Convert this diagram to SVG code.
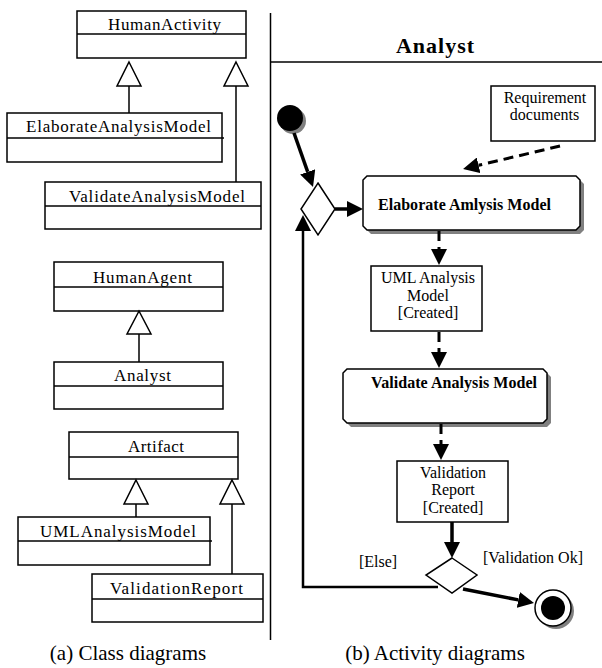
<svg xmlns="http://www.w3.org/2000/svg" width="602" height="668" viewBox="0 0 602 668">
<style>
text{font-family:"Liberation Serif","Times New Roman",serif;fill:#000}
.cn{font-size:17px}
.lb{font-size:16px;text-anchor:middle}
.bd{font-size:16px;font-weight:bold}
.cap{font-size:21px;text-anchor:middle}
.box{fill:#fff;stroke:#000;stroke-width:1.5}
.ln{fill:none;stroke:#000;stroke-width:1.5}
.gen{fill:#fff;stroke:#000;stroke-width:1.5;stroke-linejoin:miter}
.shadow{fill:#808080}
.flow{fill:none;stroke:#000;stroke-width:3.5}
.dash{fill:none;stroke:#000;stroke-width:3;stroke-dasharray:10 6}
</style>
<defs>
<marker id="ah" viewBox="0 0 16 16" refX="0" refY="8" markerWidth="16" markerHeight="16" markerUnits="userSpaceOnUse" orient="auto">
<path d="M0,0 L16,8 L0,16 z" fill="#000"/>
</marker>
</defs>

<!-- frame lines -->
<g id="frame">
<line class="ln" x1="270.5" y1="13" x2="270.5" y2="640"/>
<line class="ln" x1="271" y1="62" x2="602" y2="62"/>
<text x="396" y="53" style="font-size:22px;font-weight:bold" textLength="78" lengthAdjust="spacing">Analyst</text>
</g>

<!-- class diagrams -->
<g id="c-humanactivity">
<rect class="box" x="77" y="11" width="169" height="47"/>
<line class="ln" x1="77" y1="34" x2="246" y2="34"/>
<text class="cn" x="108" y="30" textLength="113" lengthAdjust="spacing">HumanActivity</text>
</g>
<g id="c-elaborate">
<rect class="box" x="7" y="113" width="215" height="49"/>
<line class="ln" x1="7" y1="138" x2="224" y2="138"/>
<text class="cn" x="26" y="132" textLength="185" lengthAdjust="spacing">ElaborateAnalysisModel</text>
</g>
<g id="c-validate">
<rect class="box" x="45" y="182" width="216" height="47"/>
<line class="ln" x1="45" y1="206" x2="261" y2="206"/>
<text class="cn" x="69" y="202" textLength="176" lengthAdjust="spacing">ValidateAnalysisModel</text>
</g>
<g id="c-humanagent">
<rect class="box" x="54" y="262" width="169" height="49"/>
<line class="ln" x1="54" y1="287" x2="223" y2="287"/>
<text class="cn" x="93" y="283" textLength="99" lengthAdjust="spacing">HumanAgent</text>
</g>
<g id="c-analyst">
<rect class="box" x="54" y="362" width="169" height="47"/>
<line class="ln" x1="54" y1="386" x2="223" y2="386"/>
<text class="cn" x="114" y="381" textLength="57" lengthAdjust="spacing">Analyst</text>
</g>
<g id="c-artifact">
<rect class="box" x="69" y="432" width="169" height="47"/>
<line class="ln" x1="69" y1="457" x2="238" y2="457"/>
<text class="cn" x="128" y="452" textLength="56" lengthAdjust="spacing">Artifact</text>
</g>
<g id="c-umlanalysismodel">
<rect class="box" x="18" y="517" width="192" height="48"/>
<line class="ln" x1="18" y1="541" x2="212" y2="541"/>
<text class="cn" x="40" y="537" textLength="156" lengthAdjust="spacing">UMLAnalysisModel</text>
</g>
<g id="c-validationreport">
<rect class="box" x="92" y="574" width="171" height="48"/>
<line class="ln" x1="92" y1="599" x2="263" y2="599"/>
<text class="cn" x="110" y="594" textLength="133" lengthAdjust="spacing">ValidationReport</text>
</g>

<!-- activity nodes -->
<g id="a-initial">
<circle class="shadow" cx="293" cy="121" r="13"/>
<circle cx="290" cy="118" r="13" fill="#000"/>
</g>
<g id="a-decision1">
<polygon class="box" points="318,183 335,209 318,235 301,209"/>
</g>
<g id="a-elaborate">
<polygon class="shadow" points="371,180 580,180 584,184 584,230 580,234 371,234 367,230 367,184"/>
<polygon class="box" points="367,176 576,176 580,180 580,226 576,230 367,230 363,226 363,180"/>
<text class="bd" x="378" y="210" textLength="173" lengthAdjust="spacing">Elaborate Amlysis Model</text>
</g>
<g id="a-requirements">
<rect class="box" x="491" y="86" width="104" height="55"/>
<text class="lb" x="545" y="103">Requirement</text>
<text class="lb" x="544.5" y="120">documents</text>
</g>
<g id="a-umlmodel">
<rect class="box" x="371" y="266" width="111" height="65"/>
<text class="lb" x="428" y="283">UML Analysis</text>
<text class="lb" x="428" y="301">Model</text>
<text class="lb" x="428" y="318">[Created]</text>
</g>
<g id="a-validate">
<polygon class="shadow" points="351,373 547,373 551,377 551,423 547,427 351,427 347,423 347,377"/>
<polygon class="box" points="347,369 543,369 547,373 547,419 543,423 347,423 343,419 343,373"/>
<text class="bd" x="371" y="388" textLength="166" lengthAdjust="spacing">Validate Analysis Model</text>
</g>
<g id="a-report">
<rect class="box" x="397" y="461" width="111" height="61"/>
<text class="lb" x="453" y="478">Validation</text>
<text class="lb" x="453" y="495">Report</text>
<text class="lb" x="453" y="513">[Created]</text>
</g>
<g id="a-decision2">
<polygon class="box" points="452,558 477,575 452,593 426,575"/>
</g>
<g id="a-final">
<circle class="shadow" cx="556" cy="611" r="18"/>
<circle cx="553" cy="608" r="18" fill="#fff" stroke="#000" stroke-width="1.5"/>
<circle cx="553" cy="608" r="12" fill="#000"/>
</g>

<!-- connectors -->
<g id="connectors">
<!-- generalizations -->
<line class="ln" x1="129" y1="86" x2="129" y2="113"/>
<polygon class="gen" points="129,62 141,86 117,86"/>
<line class="ln" x1="236" y1="86" x2="236" y2="182"/>
<polygon class="gen" points="236,62 248,86 224,86"/>
<line class="ln" x1="139" y1="334" x2="139" y2="362"/>
<polygon class="gen" points="139,311 151,334 127,334"/>
<line class="ln" x1="136" y1="504" x2="136" y2="517"/>
<polygon class="gen" points="136,480 148,504 124,504"/>
<line class="ln" x1="232" y1="504" x2="232" y2="574"/>
<polygon class="gen" points="232,480 244,504 220,504"/>
<!-- activity flows -->
<path class="flow" d="M294,133 L307.7,171.9" marker-end="url(#ah)"/>
<path class="flow" d="M335,209 L347,209" marker-end="url(#ah)"/>
<path class="dash" d="M560,146 L478.6,165.3" marker-end="url(#ah)"/>
<path class="dash" d="M439,231 L439,249" marker-end="url(#ah)"/>
<path class="dash" d="M439,332 L439,352" marker-end="url(#ah)"/>
<path class="dash" d="M441,424 L441,444" marker-end="url(#ah)"/>
<path class="flow" d="M452,522 L452,542" marker-end="url(#ah)"/>
<path class="flow" d="M463,589 L518.3,599.9" marker-end="url(#ah)"/>
<path fill="none" stroke="#000" stroke-width="2.5" d="M438,587 H303 V231" marker-end="url(#ah)"/>
</g>

<g id="labels">
<text class="lb" x="378" y="567">[Else]</text>
<text class="lb" x="533" y="563">[Validation Ok]</text>
<text class="cap" x="128" y="660">(a) Class diagrams</text>
<text class="cap" x="435" y="660">(b) Activity diagrams</text>
</g>
</svg>
